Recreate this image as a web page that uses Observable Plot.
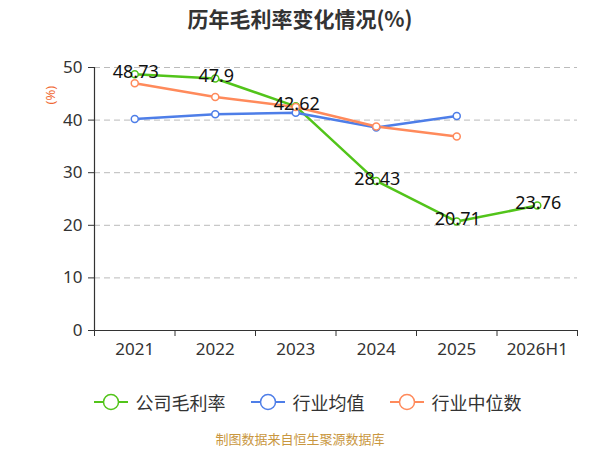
<!DOCTYPE html>
<html><head><meta charset="utf-8">
<script src="https://cdn.jsdelivr.net/npm/d3@7"></script>
<script src="https://cdn.jsdelivr.net/npm/@observablehq/plot@0.6"></script>
<style>
body{margin:0;background:#fff;font-family:"Noto Sans","Noto Sans CJK SC",sans-serif;width:600px;height:450px;overflow:hidden}
#title{height:38px;line-height:36px;text-align:center;font-size:21px;font-weight:bold;color:#333;font-family:"Noto Sans CJK SC",sans-serif}
#legend{display:flex;justify-content:center;gap:24px;height:58px;align-items:center;font-size:18px;color:#333;font-family:"Noto Sans CJK SC",sans-serif;margin-left:14px}
#legend .it{display:flex;align-items:center;gap:7px}
#caption{text-align:center;font-size:13px;color:#c9973f;font-family:"Noto Sans CJK SC",sans-serif;margin-top:-2px}
</style></head>
<body>
<div id="title">历年毛利率变化情况(%)</div>
<div id="chart"></div>
<div id="legend"></div>
<div id="caption">制图数据来自恒生聚源数据库</div>
<script>
const categories = ["2021","2022","2023","2024","2025","2026H1"];
const companyGross = [48.73, 47.9, 42.62, 28.43, 20.71, 23.76];
const industryMean = [40.2, 41.1, 41.4, 38.6, 40.8];
const industryMedian = [47.0, 44.4, 42.5, 38.8, 36.9];
const seriesNames = ["公司毛利率","行业均值","行业中位数"];
const colors = ["#52c41a","#4e7ee8","#ff8a5b"];
const yTicks = [0,10,20,30,40,50];

const toRows = (vals, s) => vals.map((v,i)=>({i, v, s}));
const rows = [
  ...toRows(companyGross, seriesNames[0]),
  ...toRows(industryMean, seriesNames[1]),
  ...toRows(industryMedian, seriesNames[2])
];
const idx = categories.map((c,i)=>i);
const bounds = d3.range(-0.5, categories.length, 1);

const chart = Plot.plot({
  width: 600, height: 335,
  marginTop: 29, marginBottom: 43, marginLeft: 94, marginRight: 23,
  style: {fontFamily: '"Noto Sans","Noto Sans CJK SC",sans-serif', fontSize: "17px", color: "#333"},
  x: {type: "linear", domain: [-0.5, categories.length - 0.5], axis: null},
  y: {domain: [0, 50], axis: null},
  color: {domain: seriesNames, range: colors},
  marks: [
    Plot.gridY(yTicks.filter(d=>d>0), {stroke: "#bbb", strokeOpacity: 1, strokeDasharray: "6,4"}),
    Plot.axisX(idx, {label: null, tickSize: 0, tickPadding: 12, tickFormat: i => categories[i], fontSize: 17, fill: "#333"}),
    Plot.axisX(bounds, {label: null, tickSize: 6, tickFormat: () => "", stroke: "#333"}),
    Plot.ruleY([0], {stroke: "#333", strokeWidth: 1.2}),
    Plot.axisY(yTicks, {label: null, tickSize: 6, tickPadding: 6, fontSize: 17, fill: "#333", stroke: "#333"}),
    Plot.ruleX([-0.5], {stroke: "#333", strokeWidth: 1.2}),
    Plot.text(["(%)"], {frameAnchor: "top-left", dx: -49, dy: 37, rotate: -90, fill: "#f06a35", fontSize: 13}),
    Plot.line(rows, {x: "i", y: "v", z: "s", stroke: "s", strokeWidth: 2.5}),
    Plot.dot(rows, {x: "i", y: "v", stroke: "s", fill: "white", r: 3.5, strokeWidth: 1.5}),
    Plot.text(rows.filter(d=>d.s===seriesNames[0]), {x: "i", y: "v", text: d => String(d.v), fill: "#111", fontSize: 18, dy: -2, dx: 1})
  ]
});
document.getElementById("chart").appendChild(chart);

const leg = document.getElementById("legend");
seriesNames.forEach((n,k)=>{
  const it = document.createElement("div"); it.className="it";
  it.innerHTML = `<svg width="36" height="20"><line x1="1" y1="10" x2="35" y2="10" stroke="${colors[k]}" stroke-width="2"/><circle cx="18" cy="10" r="7.5" fill="white" stroke="${colors[k]}" stroke-width="1.5"/></svg><span>${n}</span>`;
  leg.appendChild(it);
});
</script>
</body></html>
